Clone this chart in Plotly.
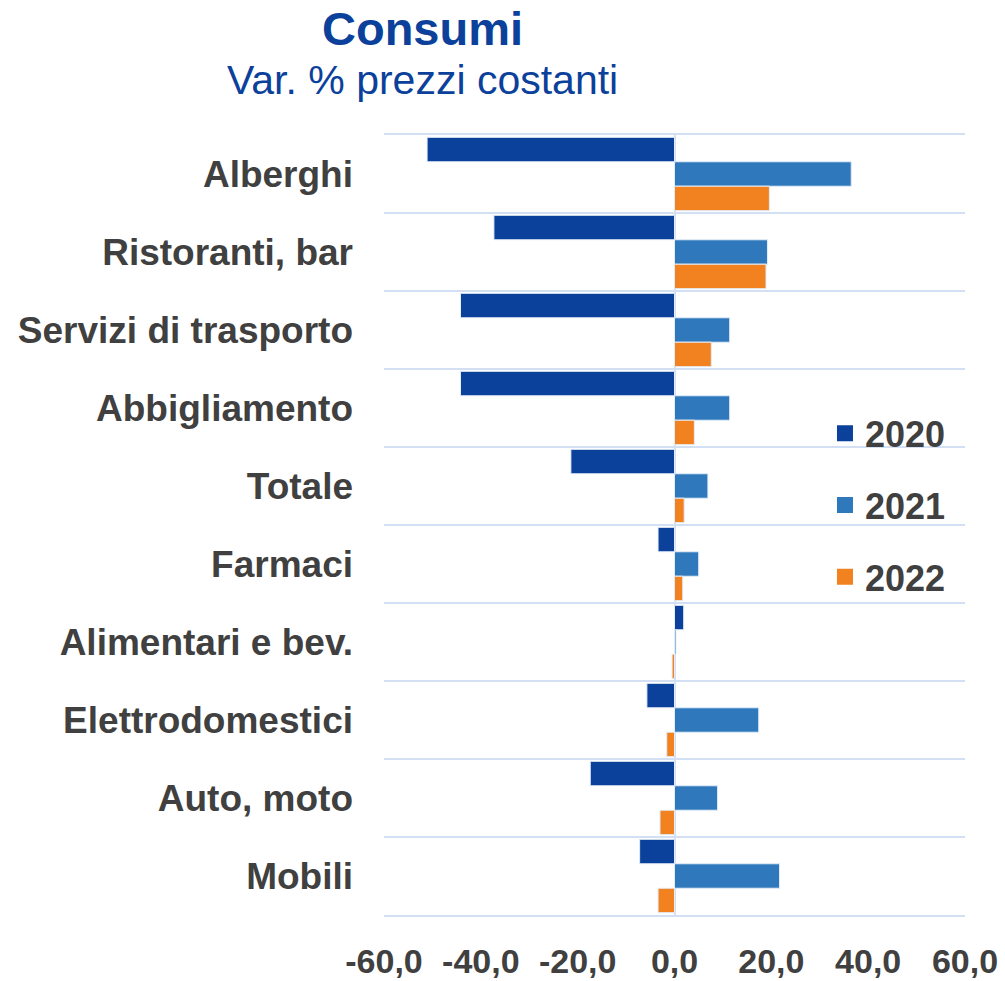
import plotly.graph_objects as go

categories = ["Alberghi", "Ristoranti, bar", "Servizi di trasporto", "Abbigliamento",
              "Totale", "Farmaci", "Alimentari e bev.", "Elettrodomestici",
              "Auto, moto", "Mobili"]
v2020 = [-51.1, -37.3, -44.2, -44.2, -21.4, -3.4, 1.9, -5.7, -17.4, -7.2]
v2021 = [36.5, 19.2, 11.4, 11.4, 6.9, 5.0, 0.3, 17.4, 8.9, 21.7]
v2022 = [19.6, 18.9, 7.6, 4.1, 2.0, 1.7, -0.5, -1.6, -3.0, -3.4]
series_names = ["2020", "2021", "2022"]
colors = ["#0b419b", "#2e78bb", "#f28120"]
x_tickvals = [-60, -40, -20, 0, 20, 40, 60]
x_ticktext = ["-60,0", "-40,0", "-20,0", "0,0", "20,0", "40,0", "60,0"]

FONT = "Liberation Sans, Arial, sans-serif"
TEXT_COLOR = "#404040"
GRID = "#d3e0f4"

fig = go.Figure()
for name, vals, col in zip(series_names, [v2020, v2021, v2022], colors):
    fig.add_trace(go.Bar(
        y=categories, x=vals, name=name, orientation="h",
        marker=dict(color=col, line=dict(color="#e4ecf8", width=1)),
        showlegend=False,
    ))
# legend entries with larger square symbols
for name, col in zip(series_names, colors):
    fig.add_trace(go.Scatter(
        x=[None], y=[None], mode="markers", name=name,
        marker=dict(symbol="square", size=17, color=col),
        legendgroup=name, showlegend=True,
    ))

fig.update_layout(
    width=1005, height=981,
    margin=dict(l=384, r=40, t=135, b=66),
    plot_bgcolor="white", paper_bgcolor="white",
    barmode="group", bargap=0.06, bargroupgap=0,
    font=dict(family=FONT, color=TEXT_COLOR),
    showlegend=True,
    legend=dict(
        x=0.759, y=0.656, xanchor="left", yanchor="top",
        bgcolor="rgba(0,0,0,0)", itemsizing="trace",
        font=dict(size=36, family=FONT, color=TEXT_COLOR, weight="bold"),
        tracegroupgap=22, itemwidth=30,
    ),
    xaxis=dict(
        range=[-60, 60], tickvals=x_tickvals, ticktext=x_ticktext,
        showgrid=False, zeroline=True, zerolinecolor=GRID, zerolinewidth=2,
        showline=True, mirror=True, linecolor=GRID, linewidth=2,
        tickfont=dict(size=34, family=FONT, color=TEXT_COLOR, weight="bold"),
        ticks="", ticklabelstandoff=15, fixedrange=True, automargin=False,
    ),
    yaxis=dict(
        autorange="reversed", type="category", tickson="boundaries",
        showgrid=True, gridcolor=GRID, gridwidth=2,
        ticks="", ticklabelstandoff=30, automargin=False,
        tickfont=dict(size=37, family=FONT, color=TEXT_COLOR, weight="bold"),
    ),
    annotations=[
        dict(text="<b>Consumi</b>", x=0.067, y=1.137, xref="paper", yref="paper",
             xanchor="center", yanchor="middle", showarrow=False,
             font=dict(size=47, color="#0b419b", family=FONT)),
        dict(text="Var. % prezzi costanti", x=0.067, y=1.0705, xref="paper", yref="paper",
             xanchor="center", yanchor="middle", showarrow=False,
             font=dict(size=41, color="#0b419b", family=FONT)),
    ],
)

fig.write_html("out.html", config={"displayModeBar": False},
               post_script="document.body.style.margin='0';document.body.style.overflow='hidden';")
